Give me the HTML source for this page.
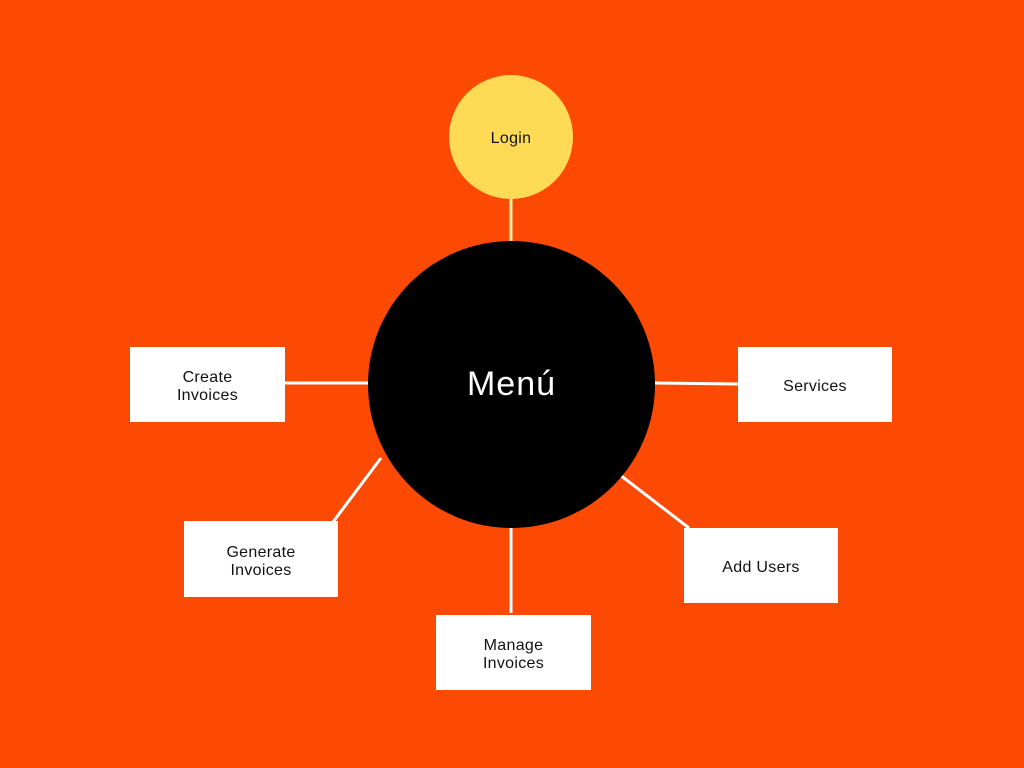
<!DOCTYPE html>
<html><head><meta charset="utf-8"><style>
html,body{margin:0;padding:0;}
body{width:1024px;height:768px;background:#FC4A04;position:relative;overflow:hidden;font-family:"Liberation Sans",sans-serif;}
.box{position:absolute;background:#fff;display:flex;align-items:center;justify-content:center;text-align:center;font-size:16px;line-height:18px;color:#111;box-sizing:border-box;padding-top:5px;letter-spacing:0.3px;}
.c{position:absolute;border-radius:50%;display:flex;align-items:center;justify-content:center;box-sizing:border-box;}
</style></head><body>
<svg width="1024" height="768" style="position:absolute;left:0;top:0">
<g stroke="#fff" stroke-width="3">
<line x1="511" y1="199" x2="511" y2="242" stroke="#FFE9A0"/>
<line x1="285" y1="383" x2="369" y2="383"/>
<line x1="655" y1="383" x2="738" y2="384"/>
<line x1="381" y1="458" x2="333" y2="522"/>
<line x1="620" y1="475" x2="689" y2="528"/>
<line x1="511" y1="528" x2="511" y2="613"/>
</g></svg>
<div class="c" style="left:449px;top:75px;width:124px;height:124px;background:#FFDA55;font-size:16px;color:#111;padding-top:4px;letter-spacing:0.3px;">Login</div>
<div class="c" style="left:368px;top:241px;width:287px;height:287px;background:#000;color:#fff;font-size:34px;letter-spacing:1px;">Menú</div>
<div class="box" style="left:130px;top:347px;width:155px;height:75px;">Create<br>Invoices</div>
<div class="box" style="left:738px;top:347px;width:154px;height:75px;">Services</div>
<div class="box" style="left:184px;top:521px;width:154px;height:76px;">Generate<br>Invoices</div>
<div class="box" style="left:684px;top:528px;width:154px;height:75px;">Add Users</div>
<div class="box" style="left:436px;top:615px;width:155px;height:75px;">Manage<br>Invoices</div>
</body></html>
